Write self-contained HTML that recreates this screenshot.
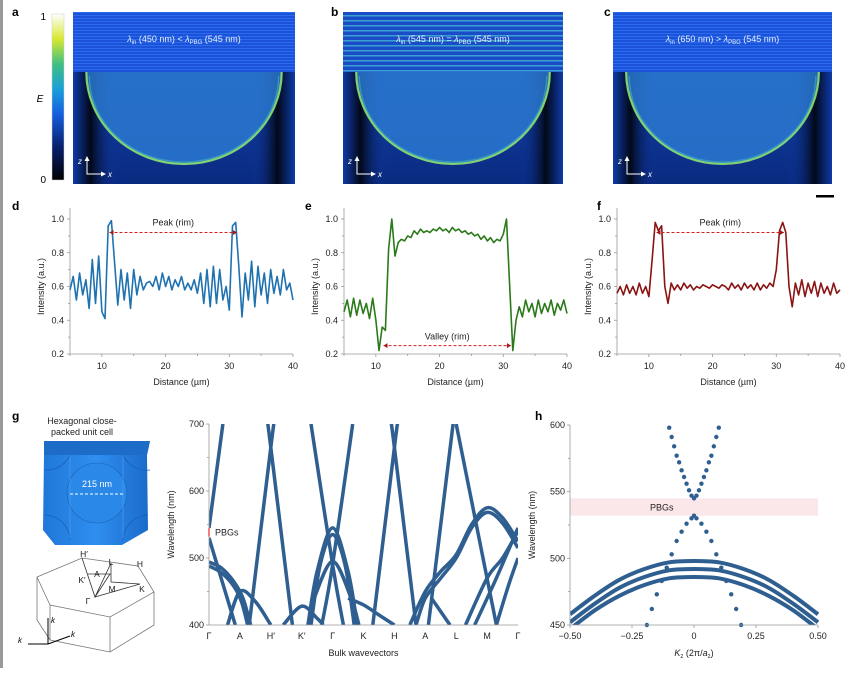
<!DOCTYPE html>
<html><head><meta charset="utf-8">
<style>
html,body{margin:0;padding:0;background:#fff;}
body{width:860px;height:668px;overflow:hidden;position:relative;font-family:"Liberation Sans",Arial,sans-serif;}
svg text{font-family:"Liberation Sans",Arial,sans-serif;}
</style></head>
<body>
<svg id="fig" width="860" height="668" viewBox="0 0 860 668" xmlns="http://www.w3.org/2000/svg">
<defs>
 <linearGradient id="cbar" x1="0" y1="1" x2="0" y2="0">
  <stop offset="0" stop-color="#000"/><stop offset="0.2" stop-color="#0a1f6e"/><stop offset="0.4" stop-color="#1560e0"/>
  <stop offset="0.55" stop-color="#19a0d8"/><stop offset="0.7" stop-color="#40c080"/><stop offset="0.85" stop-color="#d8e830"/><stop offset="1" stop-color="#fff"/>
 </linearGradient>
 <pattern id="stripes" width="4" height="3" patternUnits="userSpaceOnUse"><rect width="4" height="3" fill="#1b52d8"/><rect width="4" height="1" fill="#2a6cf0"/></pattern>
 <pattern id="stripesB" width="4" height="5" patternUnits="userSpaceOnUse"><rect width="4" height="5" fill="#1a4cc8"/><rect width="4" height="1.5" fill="#3aa0d0"/></pattern>
 <linearGradient id="lower" x1="0" y1="0" x2="0" y2="1"><stop offset="0" stop-color="#1850c0"/><stop offset="1" stop-color="#0a2a80"/></linearGradient>
 <linearGradient id="sideL" x1="0" y1="0" x2="1" y2="0"><stop offset="0" stop-color="#0e3aa8"/><stop offset="0.4" stop-color="#020818"/><stop offset="1" stop-color="#0e3aa8" stop-opacity="0"/></linearGradient>
 <linearGradient id="sideR" x1="1" y1="0" x2="0" y2="0"><stop offset="0" stop-color="#0e3aa8"/><stop offset="0.4" stop-color="#020818"/><stop offset="1" stop-color="#0e3aa8" stop-opacity="0"/></linearGradient>
 <linearGradient id="cell" x1="0" y1="0" x2="1" y2="0"><stop offset="0" stop-color="#1f78d8"/><stop offset="0.5" stop-color="#2f8ef0"/><stop offset="1" stop-color="#1a6ac8"/></linearGradient>
</defs>
<rect x="0" y="0" width="3" height="668" fill="#999"/>
<g id="topgroup"></g>
<g id="plots"></g>
</svg>
<script>
// ---------- data ----------
const xStart = 5, xStep = 0.5;
const intensityD = [0.58,0.66,0.52,0.68,0.55,0.64,0.47,0.76,0.50,0.78,0.45,0.41,0.96,0.99,0.74,0.49,0.70,0.52,0.68,0.47,0.70,0.55,0.66,0.58,0.62,0.63,0.60,0.66,0.58,0.68,0.60,0.66,0.58,0.64,0.60,0.66,0.58,0.62,0.58,0.64,0.56,0.68,0.50,0.70,0.48,0.72,0.50,0.70,0.52,0.60,0.46,0.96,0.98,0.72,0.42,0.68,0.52,0.75,0.48,0.72,0.55,0.68,0.50,0.70,0.56,0.66,0.55,0.70,0.58,0.62,0.52];
const intensityE = [0.45,0.52,0.42,0.53,0.43,0.52,0.44,0.50,0.41,0.53,0.40,0.22,0.36,0.34,0.82,1.00,0.78,0.86,0.88,0.87,0.90,0.89,0.93,0.91,0.94,0.92,0.93,0.92,0.94,0.93,0.95,0.93,0.94,0.92,0.95,0.93,0.94,0.92,0.93,0.91,0.92,0.90,0.91,0.88,0.90,0.87,0.89,0.86,0.88,0.87,0.91,1.00,0.60,0.22,0.40,0.48,0.42,0.52,0.45,0.50,0.42,0.52,0.44,0.50,0.45,0.52,0.43,0.50,0.46,0.52,0.44];
const intensityF = [0.56,0.60,0.55,0.61,0.56,0.60,0.55,0.62,0.56,0.60,0.54,0.75,0.98,0.93,0.96,0.60,0.50,0.62,0.58,0.61,0.58,0.62,0.59,0.61,0.58,0.60,0.59,0.61,0.60,0.59,0.61,0.60,0.59,0.61,0.60,0.58,0.62,0.59,0.61,0.58,0.62,0.59,0.61,0.58,0.62,0.58,0.61,0.59,0.62,0.60,0.70,0.93,0.98,0.92,0.60,0.48,0.62,0.55,0.64,0.54,0.62,0.56,0.63,0.54,0.62,0.56,0.60,0.55,0.62,0.56,0.58];
const yTicksDEF = [0.2,0.4,0.6,0.8,1.0];
const xTicksDEF = [10,20,30,40];
const bandLabels = ["Γ","A","H′","K′","Γ","K","H","A","L","M","Γ"];
const bandYTicks = [400,500,600,700];
const bands = [
 [[0,545],[0.45,700]],
 [[0,530],[0.85,400]],
 [[0,494],[0.4,485],[0.8,465],[1.1,440],[1.35,400]],
 [[0,488],[0.4,478],[0.8,458],[1.05,435],[1.25,400]],
 [[0.6,400],[1,450],[1.5,435],[2,400]],
 [[1.3,400],[2,665],[2.1,700]],
 [[2.7,400],[2,665],[1.9,700]],
 [[2.4,400],[3,428],[3.5,410],[3.7,400]],
 [[3.3,700],[4,490],[4.35,400]],
 [[4.65,700],[4,490],[3.65,400]],
 [[3.2,400],[3.5,480],[4,545],[4.5,480],[4.8,400]],
 [[3.3,400],[3.6,490],[4,535],[4.4,490],[4.7,400]],
 [[3.4,440],[4,495],[4.6,440],[4.85,400]],
 [[4.5,440],[5,430],[5.5,415],[6,400]],
 [[5.3,400],[6,665],[6.1,700]],
 [[6.7,400],[6,665],[5.9,700]],
 [[6.5,400],[7,450],[7.5,480],[8,505],[8.5,550],[9,575],[9.5,560],[10,525]],
 [[6.7,400],[7,440],[7.5,470],[8,500],[8.5,545],[9,568],[9.5,552],[10,515]],
 [[7.9,700],[7.1,400]],
 [[8.0,700],[9.3,400]],
 [[7.2,440],[7.8,400]],
 [[8.6,400],[9.3,470],[10,545]],
 [[9.3,400],[9.7,460],[10,500]],
 [[8.3,400],[9,470],[9.5,500],[10,540]]
];
const kValues = [-0.5,-0.4,-0.3,-0.2,-0.1,0,0.1,0.2,0.3,0.4,0.5];
const bandH1 = [458,472,484,492,497,498,497,492,484,472,458];
const bandH2 = [452,466,478,486,491,492,491,486,478,466,452];
const bandH3 = [447,461,472,480,485,486,485,480,472,461,447];
const coneK = [-0.10,-0.09,-0.08,-0.07,-0.06,-0.05,-0.04,-0.03,-0.02,-0.01,0,0.01,0.02,0.03,0.04,0.05,0.06,0.07,0.08,0.09,0.10];
const coneUpper = [598,591,584,577,572,566,561,556,551,547,545,547,551,556,561,566,572,577,584,591,598];
const coneLowK = [-0.19,-0.17,-0.15,-0.13,-0.11,-0.09,-0.07,-0.05,-0.03,-0.01,0,0.01,0.03,0.05,0.07,0.09,0.11,0.13,0.15,0.17,0.19];
const coneLower = [450,462,473,483,493,503,513,520,526,530,532,530,526,520,513,503,493,483,473,462,450];
const hXTicks = [-0.5,-0.25,0,0.25,0.5];
const hXTickLabels = ["−0.50","−0.25","0","0.25","0.50"];
const hYTicks = [450,500,550,600];

const NS="http://www.w3.org/2000/svg";
const svg=document.getElementById('fig');
function mk(tag,attrs,parent,txt){const e=document.createElementNS(NS,tag);for(const k in attrs)e.setAttribute(k,attrs[k]);if(txt!==undefined)e.textContent=txt;(parent||svg).appendChild(e);return e;}
function smooth(p){ // Catmull-Rom
 if(p.length<3)return 'M'+p.map(q=>q[0].toFixed(1)+','+q[1].toFixed(1)).join(' L');
 let d='M'+p[0][0].toFixed(1)+','+p[0][1].toFixed(1);
 for(let i=0;i<p.length-1;i++){const p0=p[i-1]||p[i],p1=p[i],p2=p[i+1],p3=p[i+2]||p2;
  const c1=[p1[0]+(p2[0]-p0[0])/6,p1[1]+(p2[1]-p0[1])/6],c2=[p2[0]-(p3[0]-p1[0])/6,p2[1]-(p3[1]-p1[1])/6];
  d+=` C${c1[0].toFixed(1)},${c1[1].toFixed(1)} ${c2[0].toFixed(1)},${c2[1].toFixed(1)} ${p2[0].toFixed(1)},${p2[1].toFixed(1)}`;}
 return d;}

const labs=[["a",12,16],["b",331,16],["c",604,16],["d",12,210],["e",305,210],["f",597,210],["g",12,420],["h",535,420]];
labs.forEach(l=>{const t=mk('text',{x:l[1],y:l[2],'font-size':12,'font-weight':'bold'},svg,l[0]);

});

const topG=document.getElementById('topgroup');
let cb=mk('rect',{x:52,y:14,width:12,height:166,fill:'url(#cbar)',stroke:'#ccc','stroke-width':0.5},topG);


let t1=mk('text',{x:46,y:20,'font-size':10,'text-anchor':'end'},topG,'1');


let t0=mk('text',{x:46,y:183,'font-size':10,'text-anchor':'end'},topG,'0');


let tE=mk('text',{x:40,y:102,'font-size':10,'font-style':'italic','text-anchor':'middle'},topG,'E');



const maps=[{x:73,w:222,n:'a',lam:'450',op:'<',stripe:'url(#stripes)'},{x:343,w:220,n:'b',lam:'545',op:'=',stripe:'url(#stripesB)'},{x:613,w:219,n:'c',lam:'650',op:'>',stripe:'url(#stripes)'}];
maps.forEach(m=>{
 const g=mk('g',{},topG);
 
 
 const y0=12,h=172,ym=72;
 mk('rect',{x:m.x,y:y0,width:m.w,height:h,fill:'url(#lower)'},g);
 mk('rect',{x:m.x,y:y0,width:m.w,height:ym-y0,fill:m.stripe},g);
 mk('rect',{x:m.x,y:ym,width:m.w*0.2,height:h-(ym-y0),fill:'url(#sideL)'},g);
 mk('rect',{x:m.x+m.w*0.8,y:ym,width:m.w*0.2,height:h-(ym-y0),fill:'url(#sideR)'},g);
 const l=m.x+m.w*0.06,r=m.x+m.w*0.94,cx=(l+r)/2,bot=y0+h-20;
 mk('path',{d:`M${l},${ym} A${(r-l)/2},${bot-ym} 0 0 0 ${r},${ym} Z`,fill:'#2a78d0','fill-opacity':0.85},g);
 mk('path',{d:`M${l},${ym} A${(r-l)/2},${bot-ym} 0 0 0 ${r},${ym}`,fill:'none',stroke:'#8fe070','stroke-width':2.2,'stroke-opacity':0.9},g);
 mk('path',{d:`M${l+3},${ym+4} A${(r-l)/2-3},${bot-ym-6} 0 0 0 ${r-3},${ym+4}`,fill:'none',stroke:'#40b0c0','stroke-width':1.5,'stroke-opacity':0.6},g);
 const tt=mk('text',{x:cx,y:42,'font-size':9,fill:'#fff','text-anchor':'middle','fill-opacity':0.9},g);
 tt.innerHTML=`<tspan font-style="italic">λ</tspan><tspan font-size="6" dy="2">in</tspan><tspan dy="-2"> (${m.lam} nm) ${m.op} </tspan><tspan font-style="italic">λ</tspan><tspan font-size="6" dy="2">PBG</tspan><tspan dy="-2"> (545 nm)</tspan>`;
 const ax=m.x+14,ay=y0+h-10;
 mk('path',{d:`M${ax},${ay-16} L${ax},${ay} L${ax+17},${ay}`,fill:'none',stroke:'#fff','stroke-width':1},g);
 mk('path',{d:`M${ax-2.5},${ay-13} L${ax},${ay-18} L${ax+2.5},${ay-13}Z M${ax+14},${ay-2.5} L${ax+19},${ay} L${ax+14},${ay+2.5}Z`,fill:'#fff'},g);
 mk('text',{x:ax-9,y:ay-10,'font-size':8,'font-style':'italic',fill:'#fff'},g,'z');
 mk('text',{x:ax+21,y:ay+3,'font-size':8,'font-style':'italic',fill:'#fff'},g,'x');
});
let sb=mk('rect',{x:816,y:195,width:18,height:2.5,fill:'#000'},topG);



const plots=document.getElementById('plots');
function profile(opt){
 const g=mk('g',{},plots);
 
 
 const X0=opt.x0,X1=opt.x1,Y0=354,Y1=219;
 const sx=v=>X0+(v-5)/(40-5)*(X1-X0);
 const sy=v=>Y0-(v-0.2)/(1.0-0.2)*(Y0-Y1);
 mk('line',{x1:X0,y1:208,x2:X0,y2:Y0,stroke:'#999','stroke-width':0.8},g);
 mk('line',{x1:X0,y1:Y0,x2:X1,y2:Y0,stroke:'#999','stroke-width':0.8},g);
 for(let v=0.2;v<=1.051;v+=0.1){mk('line',{x1:X0,y1:sy(v),x2:X0-(Math.round(v*10)%2===0?3:2),y2:sy(v),stroke:'#999','stroke-width':0.8},g);}
 yTicksDEF.forEach(v=>{const t=mk('text',{x:X0-6,y:sy(v)+3,'font-size':9,'text-anchor':'end',fill:'#222'},g,v.toFixed(1));
  
  });
 for(let v=5;v<=40;v+=5){mk('line',{x1:sx(v),y1:Y0,x2:sx(v),y2:Y0+(v%10===0?3:2),stroke:'#999','stroke-width':0.8},g);}
 xTicksDEF.forEach(v=>{const t=mk('text',{x:sx(v),y:Y0+15,'font-size':9,'text-anchor':'middle',fill:'#222'},g,String(v));
  
  });
 const xt=mk('text',{x:(X0+X1)/2,y:Y0+31,'font-size':9,'text-anchor':'middle',fill:'#222'},g,'Distance (µm)');
 
 
 const yt=mk('text',{x:0,y:0,'font-size':9,'text-anchor':'middle',fill:'#222',transform:`translate(${X0-26},${(Y0+Y1)/2}) rotate(-90)`},g,'Intensity (a.u.)');
 
 
 const pts=opt.data.map((v,i)=>sx(xStart+i*xStep).toFixed(1)+','+sy(v).toFixed(1)).join(' ');
 const pl=mk('polyline',{points:pts,fill:'none',stroke:opt.color,'stroke-width':1.6,'stroke-linejoin':'round'},g);
 
 
 const ay=sy(opt.annY);
 const an=mk('line',{x1:sx(11.2),y1:ay,x2:sx(31.2),y2:ay,stroke:'#d02020','stroke-width':1,'stroke-dasharray':'3,2'},g);
 
 
 mk('path',{d:`M${sx(11.2)},${ay} l4,-2.5 v5z M${sx(31.2)},${ay} l-4,-2.5 v5z`,fill:'#a01818'},g);
 const at=mk('text',{x:(sx(11.2)+sx(31.2))/2,y:ay+opt.annDy,'font-size':9,'text-anchor':'middle',fill:'#222'},g,opt.annText);
 
 
}
profile({n:'d',x0:70,x1:293,data:intensityD,color:'#1f72b0',annY:0.92,annDy:-7,annText:'Peak (rim)'});
profile({n:'e',x0:344,x1:567,data:intensityE,color:'#2a7a1a',annY:0.25,annDy:-6,annText:'Valley (rim)'});
profile({n:'f',x0:617,x1:840,data:intensityF,color:'#8a1414',annY:0.92,annDy:-7,annText:'Peak (rim)'});

const uc=mk('g',{},plots);


mk('text',{x:82,y:424,'font-size':9,'text-anchor':'middle',fill:'#222'},uc,'Hexagonal close-');
mk('text',{x:82,y:435,'font-size':9,'text-anchor':'middle',fill:'#222'},uc,'packed unit cell');
mk('path',{d:'M44,441 L150,441 L147,455 L148,530 L122,545 L55,545 L43,530 L44,455 Z',fill:'url(#cell)'},uc);
mk('path',{d:'M44,441 L150,441 L147,455 L44,455 Z',fill:'#1c6cc8'},uc);
mk('circle',{cx:97,cy:493,r:30,fill:'#2a88e8',stroke:'#1a60b0','stroke-width':0.6},uc);
mk('path',{d:'M44,470 A26,26 0 0 0 70,455 M150,470 A26,26 0 0 1 123,455 M44,515 A26,26 0 0 1 70,540 M148,515 A26,26 0 0 0 123,540',stroke:'#1660b8','stroke-width':0.8,fill:'none'},uc);
mk('path',{d:'M70,455 L70,538 M123,455 L123,538',stroke:'#5aa0e8','stroke-width':0.6,fill:'none'},uc);
mk('path',{d:'M70,494 L125,494',stroke:'#fff','stroke-width':1,'stroke-dasharray':'3,2'},uc);
mk('text',{x:97,y:487,'font-size':9,'text-anchor':'middle',fill:'#fff'},uc,'215 nm');
const bz=mk('g',{},plots);


mk('path',{d:'M37,577 L82,558 L138,566 L154,592 L110,617 L50,605 Z M50,605 L50,640 L110,652 L154,625 L154,592 M110,617 L110,652 M37,577 L37,620 L50,640',fill:'none',stroke:'#777','stroke-width':0.8},bz);
mk('path',{d:'M82,558 L95,597 L111,563 L95,597 L140,584 M88,574 L110,574 L95,597 L111,563 L111,582 L140,584',fill:'none',stroke:'#333','stroke-width':0.8},bz);
[["H′",84,557],["L",111,565],["H",140,567],["K′",82,583],["A",97,577],["M",112,592],["K",142,592],["Γ",88,604]].forEach(p=>mk('text',{x:p[1],y:p[2],'font-size':8.5,'text-anchor':'middle',fill:'#222'},bz,p[0]));
mk('path',{d:'M48,644 L48,618 M48,644 L70,636 M48,644 L28,644',stroke:'#000','stroke-width':1,fill:'none'},bz);
mk('text',{x:51,y:623,'font-size':8,'font-style':'italic'},bz,'k');mk('text',{x:71,y:637,'font-size':8,'font-style':'italic'},bz,'k');mk('text',{x:18,y:643,'font-size':8,'font-style':'italic'},bz,'k');

(function(){
 const g=mk('g',{},plots);
 
 
 const X0=209,X1=518,Y0=625,Y1=424;
 const sx=i=>X0+i/10*(X1-X0);
 const sy=v=>Y0-(v-400)/(700-400)*(Y0-Y1);
 const cp=mk('clipPath',{id:'bandclip'},g);mk('rect',{x:X0,y:Y1,width:X1-X0,height:Y0-Y1},cp);
 bands.forEach(b=>{
  const p=mk('path',{d:smooth(b.map(q=>[sx(q[0]),sy(q[1])])),fill:'none',stroke:'#2f5f90','stroke-width':3.5,'stroke-linejoin':'round','clip-path':'url(#bandclip)'},g);
  
  
 });
 mk('line',{x1:X0,y1:Y1,x2:X0,y2:Y0,stroke:'#999','stroke-width':0.8},g);
 mk('line',{x1:X0,y1:Y0,x2:X1,y2:Y0,stroke:'#999','stroke-width':0.8},g);
 for(let v=400;v<=700;v+=50)mk('line',{x1:X0,y1:sy(v),x2:X0-(v%100===0?3:2),y2:sy(v),stroke:'#999','stroke-width':0.8},g);
 bandYTicks.forEach(v=>{const t=mk('text',{x:X0-5,y:sy(v)+3,'font-size':9,'text-anchor':'end',fill:'#222'},g,String(v));
  
  });
 bandLabels.forEach((s,i)=>{const t=mk('text',{x:sx(i),y:Y0+14,'font-size':9,'text-anchor':'middle',fill:'#222'},g,s);
  
  });
 const xt=mk('text',{x:(X0+X1)/2,y:Y0+31,'font-size':9,'text-anchor':'middle',fill:'#222'},g,'Bulk wavevectors');
 
 
 const yt=mk('text',{x:0,y:0,'font-size':9,'text-anchor':'middle',fill:'#222',transform:`translate(${X0-35},${(Y0+Y1)/2}) rotate(-90)`},g,'Wavelength (nm)');
 
 
 mk('rect',{x:X0-1,y:sy(545),width:2,height:sy(532)-sy(545),fill:'#f08080'},g);
 const pb=mk('text',{x:X0+6,y:sy(538)+3,'font-size':9,fill:'#222'},g,'PBGs');
 
 
})();

(function(){
 const g=mk('g',{},plots);
 
 
 const X0=570,X1=818,Y0=625,Y1=425;
 const sx=k=>X0+(k+0.5)/1.0*(X1-X0);
 const sy=v=>Y0-(v-450)/(600-450)*(Y0-Y1);
 const band=mk('rect',{x:X0,y:sy(545),width:X1-X0,height:sy(532)-sy(545),fill:'#fbe6ea'},g);
 
 
 const pb=mk('text',{x:sx(-0.13),y:sy(538)+3,'font-size':9,'text-anchor':'middle',fill:'#222'},g,'PBGs');
 
 
 const cp=mk('clipPath',{id:'hclip'},g);mk('rect',{x:X0,y:Y1-5,width:X1-X0+4,height:Y0-Y1+5},cp);
 [bandH1,bandH2,bandH3].forEach(arr=>{
  const p=mk('path',{d:smooth(kValues.map((k,i)=>[sx(k),sy(arr[i])])),fill:'none',stroke:'#2f5f90','stroke-width':4,'stroke-linejoin':'round','clip-path':'url(#hclip)'},g);
  
  
 });
 coneK.forEach((k,i)=>{const c=mk('circle',{cx:sx(k),cy:sy(coneUpper[i]),r:2.2,fill:'#2f5f90'},g);
  
  });
 coneLowK.forEach((k,i)=>{const c=mk('circle',{cx:sx(k),cy:sy(coneLower[i]),r:2.2,fill:'#2f5f90'},g);
  
  });
 mk('line',{x1:X0,y1:Y1,x2:X0,y2:Y0,stroke:'#999','stroke-width':0.8},g);
 mk('line',{x1:X0,y1:Y0,x2:X1,y2:Y0,stroke:'#999','stroke-width':0.8},g);
 for(let v=450;v<=600;v+=25)mk('line',{x1:X0,y1:sy(v),x2:X0-(v%50===0?3:2),y2:sy(v),stroke:'#999','stroke-width':0.8},g);
 hYTicks.forEach(v=>{const t=mk('text',{x:X0-5,y:sy(v)+3,'font-size':9,'text-anchor':'end',fill:'#222'},g,String(v));
  
  });
 hXTicks.forEach((k,i)=>{mk('line',{x1:sx(k),y1:Y0,x2:sx(k),y2:Y0+3,stroke:'#999','stroke-width':0.8},g);
  const t=mk('text',{x:sx(k),y:Y0+14,'font-size':9,'text-anchor':'middle',fill:'#222'},g,hXTickLabels[i]);
  
  });
 const xt=mk('text',{x:(X0+X1)/2,y:Y0+31,'font-size':9,'text-anchor':'middle',fill:'#222'},g);
 xt.innerHTML='<tspan font-style="italic">K</tspan><tspan font-size="6" dy="2">z</tspan><tspan dy="-2"> (2π/</tspan><tspan font-style="italic">a</tspan><tspan font-size="6" dy="2">z</tspan><tspan dy="-2">)</tspan>';
 
 
 const yt=mk('text',{x:0,y:0,'font-size':9,'text-anchor':'middle',fill:'#222',transform:`translate(${X0-35},${(Y0+Y1)/2}) rotate(-90)`},g,'Wavelength (nm)');
 
 
})();
</script>
</body></html>
